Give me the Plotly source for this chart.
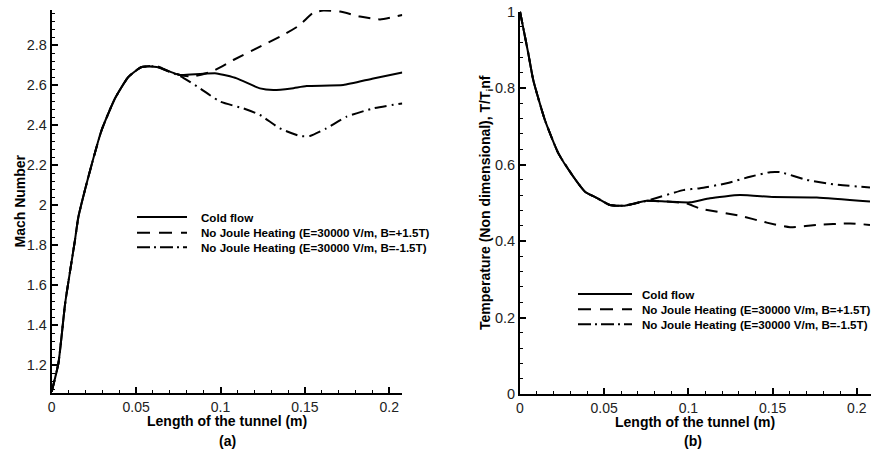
import plotly.graph_objects as go

W, H = 875, 452

# ---------------- data: (a) Mach number ----------------
mach_cold_x = [0, 0.004, 0.008, 0.0138, 0.0158, 0.0217, 0.0296, 0.0375, 0.0454, 0.0533, 0.0622, 0.069,
               0.076, 0.0879, 0.0977, 0.1096, 0.1234, 0.1313, 0.1420, 0.151, 0.1727, 0.1905, 0.2077]
mach_cold_y = [1.066, 1.21, 1.51, 1.825, 1.94, 2.14, 2.375, 2.533, 2.64, 2.69, 2.69, 2.67,
               2.65, 2.655, 2.658, 2.633, 2.583, 2.575, 2.583, 2.595, 2.60, 2.633, 2.662]

mach_pos_x = [0, 0.004, 0.008, 0.0138, 0.0158, 0.0217, 0.0296, 0.0375, 0.0454, 0.0533, 0.0622, 0.069,
              0.076, 0.083, 0.0948, 0.1076, 0.1234, 0.1372, 0.147, 0.155, 0.1609, 0.1708, 0.1826, 0.1945, 0.2077]
mach_pos_y = [1.066, 1.21, 1.51, 1.825, 1.94, 2.14, 2.375, 2.533, 2.64, 2.69, 2.695, 2.67,
              2.65, 2.642, 2.667, 2.725, 2.792, 2.85, 2.90, 2.962, 2.972, 2.967, 2.942, 2.928, 2.95]

mach_neg_x = [0, 0.004, 0.008, 0.0138, 0.0158, 0.0217, 0.0296, 0.0375, 0.0454, 0.0533, 0.0622, 0.069,
              0.076, 0.0879, 0.0997, 0.1135, 0.1234, 0.1352, 0.147, 0.153, 0.1627, 0.1747, 0.1905, 0.2077]
mach_neg_y = [1.066, 1.21, 1.51, 1.825, 1.94, 2.14, 2.375, 2.533, 2.64, 2.69, 2.692, 2.668,
              2.645, 2.583, 2.517, 2.483, 2.45, 2.383, 2.345, 2.345, 2.383, 2.442, 2.483, 2.508]

# ---------------- data: (b) Temperature ----------------
temp_cold_x = [0, 0.0049, 0.0079, 0.0148, 0.0228, 0.0317, 0.0386, 0.0455, 0.0534, 0.0613, 0.0752,
               0.0871, 0.101, 0.1128, 0.1306, 0.1504, 0.1762, 0.2078]
temp_cold_y = [1.0, 0.891, 0.82, 0.716, 0.629, 0.568, 0.529, 0.513, 0.494, 0.492, 0.505,
               0.503, 0.501, 0.512, 0.52, 0.515, 0.514, 0.503]

temp_pos_x = [0, 0.0049, 0.0079, 0.0148, 0.0228, 0.0317, 0.0386, 0.0455, 0.0534, 0.0613, 0.0752,
              0.0871, 0.099, 0.1069, 0.1306, 0.1465, 0.1603, 0.176, 0.196, 0.2078]
temp_pos_y = [1.0, 0.891, 0.82, 0.716, 0.629, 0.568, 0.529, 0.513, 0.494, 0.492, 0.505,
              0.503, 0.498, 0.485, 0.466, 0.448, 0.436, 0.442, 0.446, 0.442]

temp_neg_x = [0, 0.0049, 0.0079, 0.0148, 0.0228, 0.0317, 0.0386, 0.0455, 0.0534, 0.0613, 0.0752,
              0.097, 0.1069, 0.1227, 0.1366, 0.1485, 0.1544, 0.1702, 0.186, 0.2078]
temp_neg_y = [1.0, 0.891, 0.82, 0.716, 0.629, 0.568, 0.529, 0.513, 0.494, 0.492, 0.505,
              0.533, 0.538, 0.551, 0.568, 0.58, 0.58, 0.56, 0.548, 0.54]

series_names = ["Cold flow",
                "No Joule Heating (E=30000 V/m, B=+1.5T)",
                "No Joule Heating (E=30000 V/m, B=-1.5T)"]
dashes = ["solid", "12px,8px", "12px,5px,2px,5px"]
legend_dashes = ["solid", "13px,9px", "13px,4px,2px,4px"]

x_title = "Length of the tunnel (m)"
y_title_a = "Mach Number"
y_title_b = "Temperature (Non dimensional), T/T<sub>i</sub>nf"
panel_labels = ["(a)", "(b)"]

FONT = "Liberation Sans, Arial, sans-serif"

fig = go.Figure()
mach = [(mach_cold_x, mach_cold_y), (mach_pos_x, mach_pos_y), (mach_neg_x, mach_neg_y)]
temp = [(temp_cold_x, temp_cold_y), (temp_pos_x, temp_pos_y), (temp_neg_x, temp_neg_y)]
for (xs, ys), nm, dsh in zip(mach, series_names, dashes):
    fig.add_trace(go.Scatter(x=xs, y=ys, name=nm, mode="lines", xaxis="x", yaxis="y", showlegend=False,
                             line=dict(color="black", width=2, dash=dsh, shape="spline", smoothing=0.5)))
for (xs, ys), nm, dsh in zip(temp, series_names, dashes):
    fig.add_trace(go.Scatter(x=xs, y=ys, name=nm, mode="lines", xaxis="x2", yaxis="y2", showlegend=False,
                             line=dict(color="black", width=2, dash=dsh, shape="spline", smoothing=0.5)))

def px_x(p):
    return p / W

def px_y(p):
    return 1 - p / H

ytickfont = dict(family=FONT, size=14.5, color="#222")
xtickfont = dict(family=FONT, size=14, color="#222")
common = dict(showgrid=False, zeroline=False, showline=True, linecolor="black", linewidth=2,
              ticks="inside", ticklen=6, tickwidth=1.5, tickcolor="black",
              automargin=False,
              minor=dict(ticks="inside", ticklen=3, tickwidth=1, tickcolor="black", showgrid=False))
xminor = {**common["minor"], "dtick": 0.01}

fig.update_layout(
    width=W, height=H, margin=dict(l=0, r=0, t=0, b=0, autoexpand=False),
    paper_bgcolor="white", plot_bgcolor="white",
    font=dict(family=FONT, color="black"),
    xaxis=dict(domain=[px_x(51.7), px_x(402.3)], range=[0, 0.2077], dtick=0.05, tick0=0,
               anchor="y", tickfont=xtickfont, **{**common, "minor": xminor}),
    yaxis=dict(domain=[px_y(393), px_y(10)], range=[1.06, 2.975], dtick=0.2, tick0=1.2,
               anchor="x", tickfont=ytickfont,
               **{**common, "minor": {**common["minor"], "dtick": 0.04, "tick0": 1.2}}),
    xaxis2=dict(domain=[px_x(520), px_x(871)], range=[0, 0.2084], dtick=0.05, tick0=0,
                anchor="y2", tickfont=xtickfont, **{**common, "minor": xminor}),
    yaxis2=dict(domain=[px_y(394), px_y(11.5)], range=[0, 1.0], dtick=0.2, tick0=0,
                anchor="x2", tickfont=ytickfont,
                **{**common, "minor": {**common["minor"], "dtick": 0.04}}),
    showlegend=False,
)

# manual legends (sample line + label), positions in pixels
legend_boxes = [dict(x0=137, x1=187, xt=199, rows=[217, 232.7, 247.2]),
                dict(x0=578, x1=632, xt=640, rows=[294, 309.3, 324.2])]
leg_font = dict(family=FONT, size=11.6, color="black", weight="bold")
for box in legend_boxes:
    for nm, dsh, ry in zip(series_names, legend_dashes, box["rows"]):
        fig.add_shape(type="line", xref="paper", yref="paper",
                      x0=px_x(box["x0"]), x1=px_x(box["x1"]), y0=px_y(ry), y1=px_y(ry),
                      line=dict(color="black", width=2, dash=dsh))
        fig.add_annotation(xref="paper", yref="paper", x=px_x(box["xt"]), y=px_y(ry),
                           xanchor="left", yanchor="middle", showarrow=False, text=nm, font=leg_font)

title_font = dict(family=FONT, size=14, color="black", weight="bold")
ann = [
    dict(text=y_title_a, x=px_x(19), y=px_y(201.5), textangle=-90),
    dict(text=y_title_b, x=px_x(486), y=px_y(202), textangle=-90),
    dict(text=x_title, x=px_x(227), y=px_y(421)),
    dict(text=x_title, x=px_x(695), y=px_y(422)),
    dict(text=panel_labels[0], x=px_x(227), y=px_y(441)),
    dict(text=panel_labels[1], x=px_x(693), y=px_y(441)),
]
for a in ann:
    fig.add_annotation(xref="paper", yref="paper", showarrow=False, xanchor="center", yanchor="middle",
                       font=title_font, **a)

fig.write_html("out.html")
